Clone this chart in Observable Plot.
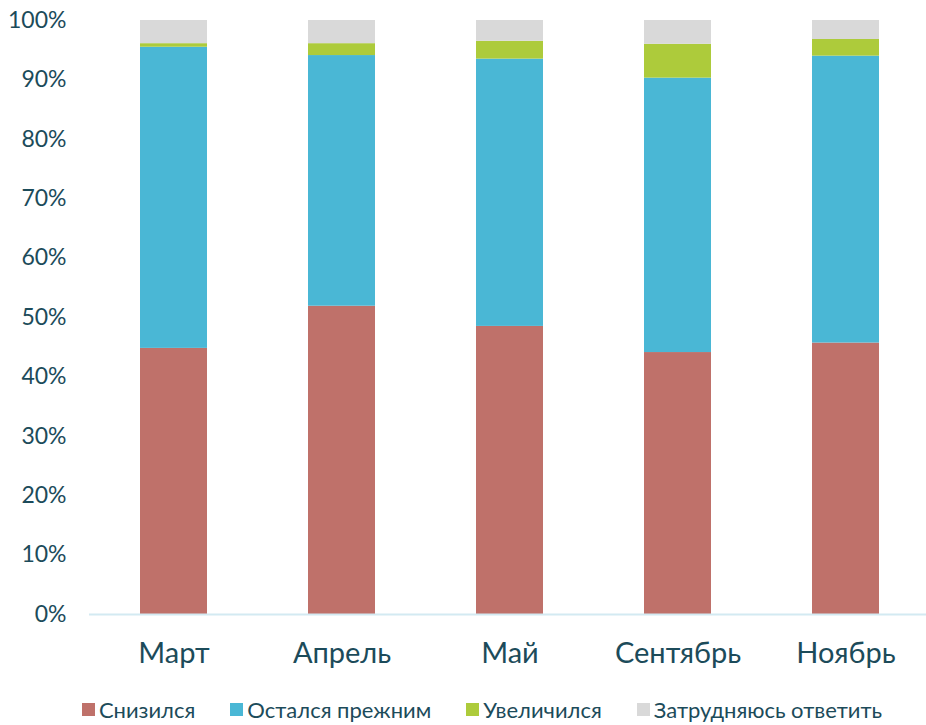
<!DOCTYPE html>
<html><head><meta charset="utf-8">
<script src="https://cdn.jsdelivr.net/npm/d3@7"></script>
<script src="https://cdn.jsdelivr.net/npm/@observablehq/plot@0.6"></script>
<style>
body{margin:0;background:#fff;font-family:Lato,"Open Sans",sans-serif;}
#legend{display:flex;justify-content:center;gap:35px;font-size:22px;color:#1c4b5a;margin-top:6px;padding-left:38px;}
#legend span.item{display:flex;align-items:center;gap:4px;}
#legend span.sw{display:inline-block;width:13px;height:13px;}
</style></head>
<body>
<div id="chart"></div>
<div id="legend"></div>
<script>
const months = ["Март","Апрель","Май","Сентябрь","Ноябрь"];
const seriesNames = ["Снизился","Остался прежним","Увеличился","Затрудняюсь ответить"];
const colors = ["#bf716a","#4ab7d5","#adcb3b","#d9d9d9"];
const decreased = [44.8,51.9,48.5,44.1,45.7];
const same = [50.7,42.2,45.0,46.2,48.3];
const increased = [0.6,2.0,3.0,5.7,2.8];
const unsure = [3.9,3.9,3.5,4.0,3.2];
const yTicks = [0,10,20,30,40,50,60,70,80,90,100];

const seriesValues = [decreased,same,increased,unsure];
const data = [];
months.forEach((m,i)=>seriesNames.forEach((s,j)=>data.push({month:m,series:s,value:seriesValues[j][i]})));

const chart = Plot.plot({
  width:926, height:690,
  marginLeft:89, marginRight:-4, marginTop:20, marginBottom:76,
  style:{fontFamily:"Lato, 'Open Sans', sans-serif", color:"#1c4b5a", background:"#fff", overflow:"visible"},
  x:{domain:months, paddingInner:0.6, paddingOuter:0.3, label:null},
  y:{domain:[0,100], label:null},
  color:{domain:seriesNames, range:colors},
  marks:[
    Plot.barY(data,{x:"month",y:"value",fill:"series",order:seriesNames}),
    Plot.ruleY([0],{stroke:"#d3eaf2",strokeWidth:2}),
    Plot.axisX({fontSize:29,tickSize:0,tickPadding:28,label:null}),
    Plot.axisY({ticks:yTicks,tickFormat:d=>d+"%",fontSize:23,tickSize:0,tickPadding:23,label:null})
  ]
});
document.getElementById("chart").appendChild(chart);

const leg = document.getElementById("legend");
seriesNames.forEach((s,i)=>{
  const it=document.createElement("span");it.className="item";
  const sw=document.createElement("span");sw.className="sw";sw.style.background=colors[i];
  const t=document.createElement("span");t.textContent=s;
  it.appendChild(sw);it.appendChild(t);leg.appendChild(it);
});
</script>
</body></html>
